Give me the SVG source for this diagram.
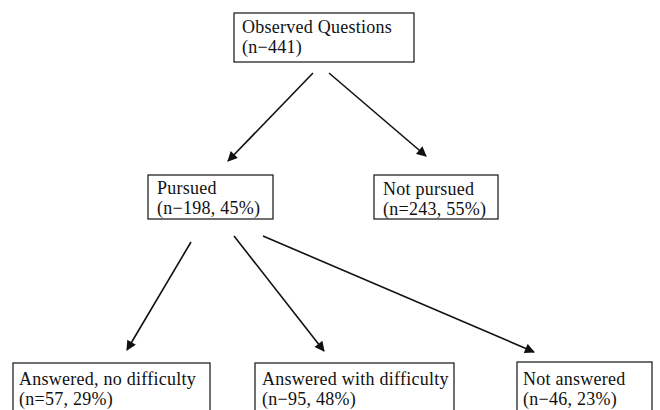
<svg xmlns="http://www.w3.org/2000/svg" width="660" height="410" viewBox="0 0 660 410">
<style>
  .box { fill: #ffffff; stroke: #111111; stroke-width: 1.2; }
  .t { font-family: "Liberation Serif", "Times New Roman", serif; font-size: 18px; letter-spacing: 0.25px; fill: #111111; }
  .edge { stroke: #111111; stroke-width: 1.6; fill: none; marker-end: url(#arrow); }
</style>
<defs>
  <marker id="arrow" viewBox="0 0 10 10" refX="9" refY="5" markerWidth="12" markerHeight="10" markerUnits="userSpaceOnUse" orient="auto">
    <path d="M0,0 L10,5 L0,10 z" fill="#111111"/>
  </marker>
</defs>
<rect width="660" height="410" fill="#ffffff"/>
<g id="connectors">
  <line class="edge" x1="313" y1="73" x2="228" y2="161"/>
  <line class="edge" x1="329" y1="73" x2="426" y2="156"/>
  <line class="edge" x1="191" y1="242" x2="127" y2="350"/>
  <line class="edge" x1="234" y1="236" x2="324" y2="351"/>
  <line class="edge" x1="263" y1="236" x2="534" y2="352"/>
</g>
<g id="observed">
  <rect class="box" x="234" y="13" width="180" height="49"/>
  <text class="t" x="242" y="33">Observed Questions</text>
  <text class="t" x="242" y="53">(n−441)</text>
</g>
<g id="pursued">
  <rect class="box" x="148" y="175" width="125" height="44"/>
  <text class="t" x="157" y="194">Pursued</text>
  <text class="t" x="157" y="214">(n−198, 45%)</text>
</g>
<g id="not-pursued">
  <rect class="box" x="374" y="175" width="124" height="44"/>
  <text class="t" x="383" y="195">Not pursued</text>
  <text class="t" x="383" y="215">(n=243, 55%)</text>
</g>
<g id="answered-no-difficulty">
  <rect class="box" x="13" y="363" width="197" height="60"/>
  <text class="t" x="19" y="385">Answered, no difficulty</text>
  <text class="t" x="19" y="405">(n=57, 29%)</text>
</g>
<g id="answered-with-difficulty">
  <rect class="box" x="255" y="363" width="199" height="60"/>
  <text class="t" x="262" y="385">Answered with difficulty</text>
  <text class="t" x="262" y="405">(n−95, 48%)</text>
</g>
<g id="not-answered">
  <rect class="box" x="517" y="362" width="135" height="60"/>
  <text class="t" x="523" y="385">Not answered</text>
  <text class="t" x="523" y="405">(n−46, 23%)</text>
</g>
</svg>
